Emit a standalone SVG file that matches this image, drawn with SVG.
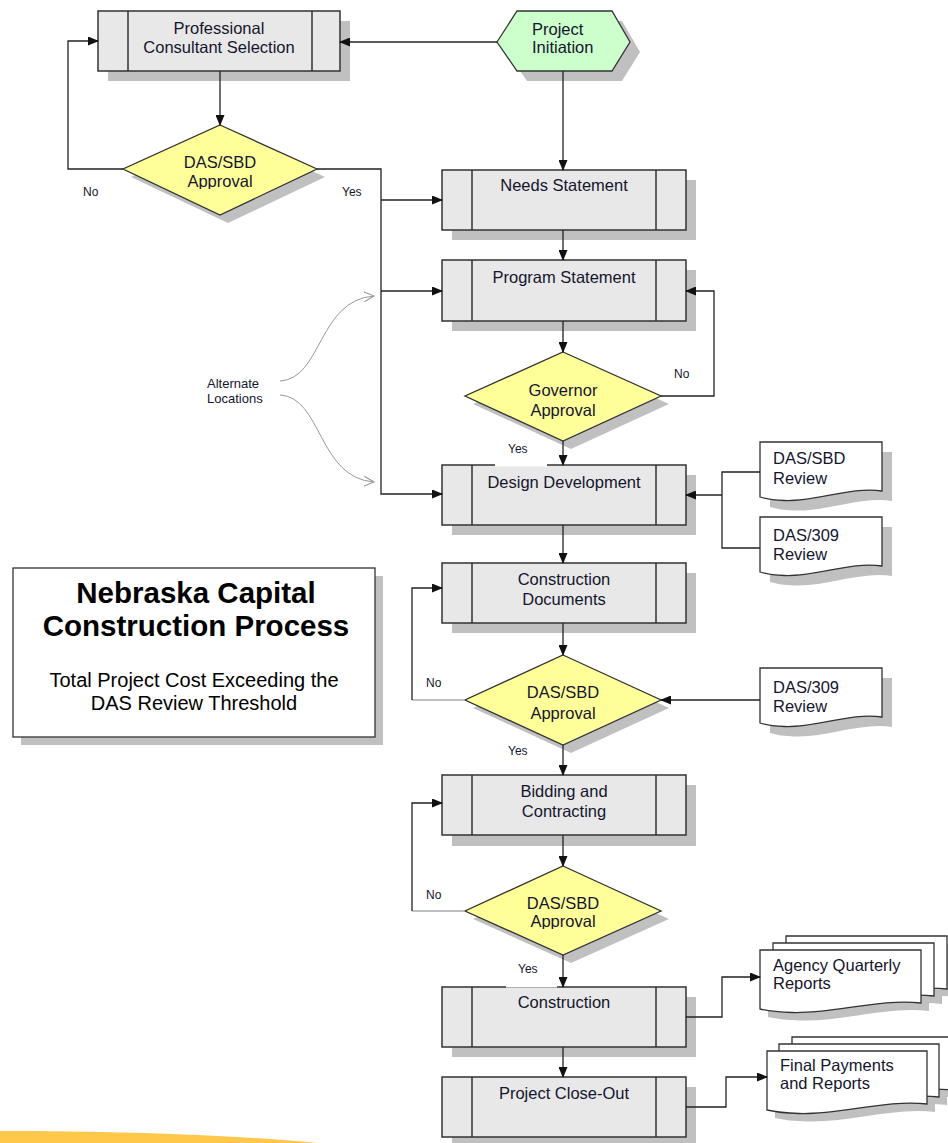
<svg xmlns="http://www.w3.org/2000/svg" width="948" height="1143" viewBox="0 0 948 1143">
<style>
.sh{fill:#c0c0c0;stroke:none}
.box{fill:#e8e8e8;stroke:#333;stroke-width:1.5}
.dv{fill:none;stroke:#333;stroke-width:1.5}
.dia{fill:#ffff99;stroke:#333;stroke-width:1.3}
.hex{fill:#ccffcc;stroke:#333;stroke-width:1.3}
.doc{fill:#fff;stroke:#333;stroke-width:1.3}
.t{font-family:"Liberation Sans",Arial,sans-serif;font-size:16.5px;fill:#15152e;text-anchor:middle}
.tl{font-family:"Liberation Sans",Arial,sans-serif;font-size:16.5px;fill:#15152e}
.lbl{font-family:"Liberation Sans",Arial,sans-serif;font-size:12px;fill:#15152e}
.alt{font-family:"Liberation Sans",Arial,sans-serif;font-size:13px;fill:#15152e}
.conn{fill:none;stroke:#222;stroke-width:1.3}
.arr{marker-end:url(#ah)}
.curve{fill:none;stroke:#999;stroke-width:1}
</style>
<defs>
<marker id="ah" markerUnits="userSpaceOnUse" markerWidth="11" markerHeight="9" refX="10" refY="4.5" orient="auto">
<path d="M0,0 L11,4.5 L0,9 Z" fill="#111"/>
</marker>
<marker id="oh" markerUnits="userSpaceOnUse" markerWidth="12" markerHeight="12" refX="10" refY="6" orient="auto">
<path d="M0,1 L10,6 L0,11" fill="none" stroke="#999" stroke-width="1"/>
</marker>
<clipPath id="c1"><rect x="150" y="140" width="140" height="49"/></clipPath>
<clipPath id="c3"><rect x="490" y="880" width="150" height="49"/></clipPath>
</defs>

<path d="M0,1131 C120,1131 230,1135 318,1143 L0,1143 Z" fill="#ffc84a"/>

<g id="professional-consultant-selection">
<rect class="sh" x="108" y="21" width="242" height="60"/>
<rect class="box" x="98" y="11" width="242" height="60"/>
<path class="dv" d="M128,11V71M312,11V71"/>
<text class="t" x="219" y="34">Professional</text>
<text class="t" x="219" y="53">Consultant Selection</text>
</g>

<g id="project-initiation">
<polygon class="sh" points="507,52 527,21 622,21 640,52 622,81 527,81"/>
<polygon class="hex" points="497,42 517,11 612,11 630,42 612,71 517,71"/>
<text class="tl" x="532" y="35">Project</text>
<text class="tl" x="532" y="53">Initiation</text>
</g>

<g id="das-sbd-approval-1">
<polygon class="sh" points="228,133 325,177 228,223 131,177"/>
<polygon class="dia" points="220,125 317,169 220,215 123,169"/>
<g clip-path="url(#c1)">
<text class="t" x="220" y="168">DAS/SBD</text>
<text class="t" x="220" y="187">Approval</text>
</g>
</g>

<g id="needs-statement">
<rect class="sh" x="452" y="180" width="244" height="60"/>
<rect class="box" x="442" y="170" width="244" height="60"/>
<path class="dv" d="M472,170V230M656,170V230"/>
<text class="t" x="564" y="191">Needs Statement</text>
</g>

<g id="program-statement">
<rect class="sh" x="452" y="270" width="244" height="61"/>
<rect class="box" x="442" y="260" width="244" height="61"/>
<path class="dv" d="M472,260V321M656,260V321"/>
<text class="t" x="564" y="283">Program Statement</text>
</g>

<g id="governor-approval">
<polygon class="sh" points="571,360 669,404 571,449 473,404"/>
<polygon class="dia" points="563,352 661,396 563,441 465,396"/>
<text class="t" x="563" y="396">Governor</text>
<text class="t" x="563" y="416">Approval</text>
</g>

<g id="design-development">
<rect class="sh" x="452" y="475" width="244" height="60"/>
<rect class="box" x="442" y="465" width="244" height="60"/>
<path class="dv" d="M472,465V525M656,465V525"/>
<text class="t" x="564" y="488">Design Development</text>
</g>

<g id="das-sbd-review">
<path class="sh" transform="translate(10,10)" d="M760,442 H882 V491 C851.5,486 814.9,502 784.4,500.5 Q769.8,500 760,497 Z"/>
<path class="doc" d="M760,442 H882 V491 C851.5,486 814.9,502 784.4,500.5 Q769.8,500 760,497 Z"/>
<text class="tl" x="773" y="464">DAS/SBD</text>
<text class="tl" x="773" y="484">Review</text>
</g>

<g id="das-309-review-1">
<path class="sh" transform="translate(10,10)" d="M760,517 H882 V566 C851.5,561 814.9,577 784.4,575.5 Q769.8,575 760,572 Z"/>
<path class="doc" d="M760,517 H882 V566 C851.5,561 814.9,577 784.4,575.5 Q769.8,575 760,572 Z"/>
<text class="tl" x="773" y="541">DAS/309</text>
<text class="tl" x="773" y="560">Review</text>
</g>

<g id="construction-documents">
<rect class="sh" x="452" y="573" width="244" height="60"/>
<rect class="box" x="442" y="563" width="244" height="60"/>
<path class="dv" d="M472,563V623M656,563V623"/>
<text class="t" x="564" y="585">Construction</text>
<text class="t" x="564" y="605">Documents</text>
</g>

<g id="das-sbd-approval-2">
<polygon class="sh" points="571,663 669,708 571,753 473,708"/>
<polygon class="dia" points="563,655 661,700 563,745 465,700"/>
<text class="t" x="563" y="698">DAS/SBD</text>
<text class="t" x="563" y="719">Approval</text>
</g>

<g id="das-309-review-2">
<path class="sh" transform="translate(10,10)" d="M760,668 H882 V717 C851.5,712 814.9,728 784.4,726.5 Q769.8,726 760,723 Z"/>
<path class="doc" d="M760,668 H882 V717 C851.5,712 814.9,728 784.4,726.5 Q769.8,726 760,723 Z"/>
<text class="tl" x="773" y="693">DAS/309</text>
<text class="tl" x="773" y="712">Review</text>
</g>

<g id="bidding-and-contracting">
<rect class="sh" x="452" y="785" width="244" height="61"/>
<rect class="box" x="442" y="775" width="244" height="60"/>
<path class="dv" d="M472,775V835M656,775V835"/>
<text class="t" x="564" y="797">Bidding and</text>
<text class="t" x="564" y="817">Contracting</text>
</g>

<g id="das-sbd-approval-3">
<polygon class="sh" points="571,874 669,919 571,963 473,919"/>
<polygon class="dia" points="563,866 661,911 563,955 465,911"/>
<g clip-path="url(#c3)">
<text class="t" x="563" y="909">DAS/SBD</text>
<text class="t" x="563" y="927">Approval</text>
</g>
</g>

<g id="construction">
<rect class="sh" x="452" y="997" width="244" height="60"/>
<rect class="box" x="442" y="987" width="244" height="60"/>
<path class="dv" d="M472,987V1047M656,987V1047"/>
<text class="t" x="564" y="1008">Construction</text>
</g>

<g id="project-close-out">
<rect class="sh" x="452" y="1087" width="244" height="60"/>
<rect class="box" x="442" y="1077" width="244" height="60"/>
<path class="dv" d="M472,1077V1137M656,1077V1137"/>
<text class="t" x="564" y="1099">Project Close-Out</text>
</g>

<g id="agency-quarterly-reports">
<path class="sh" transform="translate(8,8)" d="M786,936 H947 V989 C907,984 858,1000 818,998.5 Q799,998 786,995 Z"/>
<path class="sh" transform="translate(8,8)" d="M773,943 H934 V996 C894,991 845,1007 805,1005.5 Q786,1005 773,1002 Z"/>
<path class="sh" transform="translate(8,8)" d="M760,950 H921 V1003 C881,998 832,1014 792,1012.5 Q773,1012 760,1009 Z"/>
<path class="doc" d="M786,936 H947 V989 C907,984 858,1000 818,998.5 Q799,998 786,995 Z"/>
<path class="doc" d="M773,943 H934 V996 C894,991 845,1007 805,1005.5 Q786,1005 773,1002 Z"/>
<path class="doc" d="M760,950 H921 V1003 C881,998 832,1014 792,1012.5 Q773,1012 760,1009 Z"/>
<text class="tl" x="773" y="971">Agency Quarterly</text>
<text class="tl" x="773" y="989">Reports</text>
</g>

<g id="final-payments-and-reports">
<path class="sh" transform="translate(8,8)" d="M792,1037 H952 V1090 C912,1085 864,1101 824,1099.5 Q805,1099 792,1096 Z"/>
<path class="sh" transform="translate(8,8)" d="M779,1044 H939 V1097 C899,1092 851,1108 811,1106.5 Q792,1106 779,1103 Z"/>
<path class="sh" transform="translate(8,8)" d="M767,1051 H927 V1104 C887,1099 839,1115 799,1113.5 Q780,1113 767,1110 Z"/>
<path class="doc" d="M792,1037 H952 V1090 C912,1085 864,1101 824,1099.5 Q805,1099 792,1096 Z"/>
<path class="doc" d="M779,1044 H939 V1097 C899,1092 851,1108 811,1106.5 Q792,1106 779,1103 Z"/>
<path class="doc" d="M767,1051 H927 V1104 C887,1099 839,1115 799,1113.5 Q780,1113 767,1110 Z"/>
<text class="tl" x="780" y="1071">Final Payments</text>
<text class="tl" x="780" y="1089">and Reports</text>
</g>

<g id="title">
<rect class="sh" x="21" y="576" width="362" height="169"/>
<rect x="13" y="568" width="362" height="169" fill="#fff" stroke="#333" stroke-width="1.3"/>
<text x="196" y="603" font-family="'Liberation Sans',Arial,sans-serif" font-size="29.5" font-weight="bold" text-anchor="middle" fill="#000">Nebraska Capital</text>
<text x="196" y="636" font-family="'Liberation Sans',Arial,sans-serif" font-size="29.5" font-weight="bold" text-anchor="middle" fill="#000">Construction Process</text>
<text x="194" y="687" font-family="'Liberation Sans',Arial,sans-serif" font-size="20" text-anchor="middle" fill="#000">Total Project Cost Exceeding the</text>
<text x="194" y="710" font-family="'Liberation Sans',Arial,sans-serif" font-size="20" text-anchor="middle" fill="#000">DAS Review Threshold</text>
</g>

<g id="connectors">
<path class="conn arr" d="M497,42 H340"/>
<path class="conn arr" d="M220,71 V125"/>
<path class="conn arr" d="M123,169 H68 V41 H98"/>
<path class="conn arr" d="M317,169 H381 V494 H442"/>
<path class="conn arr" d="M381,200 H442"/>
<path class="conn arr" d="M381,291 H442"/>
<path class="conn arr" d="M563,71 V170"/>
<path class="conn arr" d="M563,230 V260"/>
<path class="conn arr" d="M563,321 V352"/>
<path class="conn arr" d="M661,396 H714 V291 H686"/>
<path class="conn arr" d="M563,441 V465"/>
<path class="conn" d="M760,472 H722 V548 H760"/>
<path class="conn arr" d="M722,495 H686"/>
<path class="conn arr" d="M563,525 V563"/>
<path class="conn arr" d="M563,623 V655"/>
<path class="conn" d="M465,700 H412" style="stroke:#aaa"/>
<path class="conn arr" d="M412,700 V588 H442"/>
<path class="conn arr" d="M760,700 H661"/>
<path class="conn arr" d="M563,745 V775"/>
<path class="conn arr" d="M563,835 V866"/>
<path class="conn" d="M465,911 H412" style="stroke:#aaa"/>
<path class="conn arr" d="M412,911 V803 H442"/>
<path class="conn arr" d="M563,955 V987"/>
<path class="conn arr" d="M563,1047 V1077"/>
<path class="conn arr" d="M686,1017 H722 V977 H760"/>
<path class="conn arr" d="M686,1107 H726 V1077 H767"/>
<path class="curve" marker-end="url(#oh)" d="M280,381 C322,379 318,300 374,296"/>
<path class="curve" marker-end="url(#oh)" d="M280,395 C322,397 318,478 374,482"/>
</g>

<g id="labels">
<rect x="495" y="459" width="52" height="7.5" fill="#fff"/>
<rect x="506" y="980" width="51" height="7.5" fill="#fff"/>
<text class="lbl" x="83" y="196">No</text>
<text class="lbl" x="342" y="196">Yes</text>
<text class="lbl" x="674" y="378">No</text>
<text class="lbl" x="508" y="453">Yes</text>
<text class="lbl" x="426" y="687">No</text>
<text class="lbl" x="508" y="755">Yes</text>
<text class="lbl" x="426" y="899">No</text>
<text class="lbl" x="518" y="973">Yes</text>
<text class="alt" x="207" y="388">Alternate</text>
<text class="alt" x="207" y="403">Locations</text>
</g>
</svg>
